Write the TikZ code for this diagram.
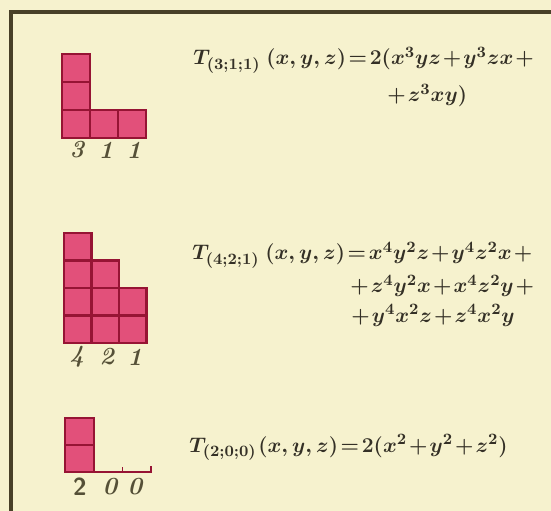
\documentclass[tikz,border=0pt]{standalone}
\usepackage{amsmath}
\usepackage{xcolor}
\usetikzlibrary{positioning,calc}
\definecolor{paper}{RGB}{246,242,206}
\definecolor{framec}{RGB}{72,64,40}
\definecolor{cellfill}{RGB}{226,80,122}
\definecolor{celledge}{RGB}{150,20,52}
\definecolor{inkc}{RGB}{52,48,38}
\definecolor{digitc}{RGB}{85,80,55}
\newcommand\tightops{\thickmuskip=2mu\relax\medmuskip=1.5mu\relax}

\begin{document}
\begin{tikzpicture}[
    cell/.style={fill=cellfill, draw=celledge, line width=1.6pt},
    formula/.style={anchor=base west, inner sep=0pt, text=inkc,
      font=\fontsize{13}{15}\selectfont\boldmath\tightops},
    digit/.style={text=digitc, font=\fontsize{14}{16}\selectfont\bfseries\itshape, inner sep=0pt},
    frameline/.style={draw=framec, line width=1.8pt},
]
% Paper and frame
\fill[paper] (0,0) rectangle (11.02,-10.22);
\useasboundingbox (0,0) rectangle (11.02,-10.22);
\draw[frameline] (11.02,-0.24) -- (0.22,-0.24) -- (0.22,-10.22);
% Diagram (3;1;1)
\foreach \c/\h in {0/3,1/1,2/1}
  \foreach \r in {1,...,\h}
    \draw[cell] ({1.24+0.56*\c},{-2.76+0.56*(\r-1)}) rectangle ++(0.56,0.56);
\node[digit] (dA1) at (1.54,-3.0) {3};
\node[digit] (dA2) at (2.12,-3.0) {1};
\node[digit] (dA3) at (2.68,-3.0) {1};
% Diagram (4;2;1)
\foreach \c/\h in {0/4,1/3,2/2}
  \foreach \r in {1,...,\h}
    \draw[cell] ({1.28+0.55*\c},{-6.86+0.55*(\r-1)}) rectangle ++(0.55,0.55);
\node[digit] (dB1) at (1.54,-7.14) {4};
\node[digit] (dB2) at (2.14,-7.14) {2};
\node[digit] (dB3) at (2.70,-7.14) {1};
% Diagram (2;0;0)
\foreach \r in {1,2}
  \draw[cell] (1.30,{-9.44+0.54*(\r-1)}) rectangle ++(0.58,0.54);
\coordinate (axA) at (1.88,-9.44);
\coordinate (axB) at (3.02,-9.44);
\draw[celledge, line width=1.2pt] (axA) -- (axB) -- ++(0,0.12);
\draw[celledge, line width=0.9pt] ($(axA)!0.5!(axB)$) -- ++(0,0.1);
\node[digit, font=\fontsize{14}{16}\selectfont\bfseries\sffamily] (dC1) at (1.60,-9.74) {2};
\node[digit] (dC2) at (2.20,-9.74) {0};
\node[digit] (dC3) at (2.70,-9.74) {0};
% Formulas
\node[formula] (headA) at (3.86,-1.30) {$T_{(3;1;1)}$};
\node[formula] (lineA1) at (5.32,-1.30) {$(x,y,z) = 2(x^3yz + y^3zx + {}$};
\node[formula] (lineA2) at (7.70,-2.04) {${}+ z^3xy)$};
\node[formula] (headB) at (3.84,-5.20) {$T_{(4;2;1)}$};
\node[formula] (lineB1) at (5.30,-5.20) {$(x,y,z) = x^4y^2z + y^4z^2x + {}$};
\node[formula] (lineB2) at (6.96,-5.86) {${}+ z^4y^2x + x^4z^2y + {}$};
\node[formula] (lineB3) at (6.98,-6.44) {${}+ y^4x^2z + z^4x^2y$};
\node[formula] (headC) at (3.78,-9.04) {$T_{(2;0;0)}$};
\node[formula] (lineC1) at (5.16,-9.04) {$(x,y,z) = 2(x^2 + y^2 + z^2)$};
\end{tikzpicture}
\end{document}
